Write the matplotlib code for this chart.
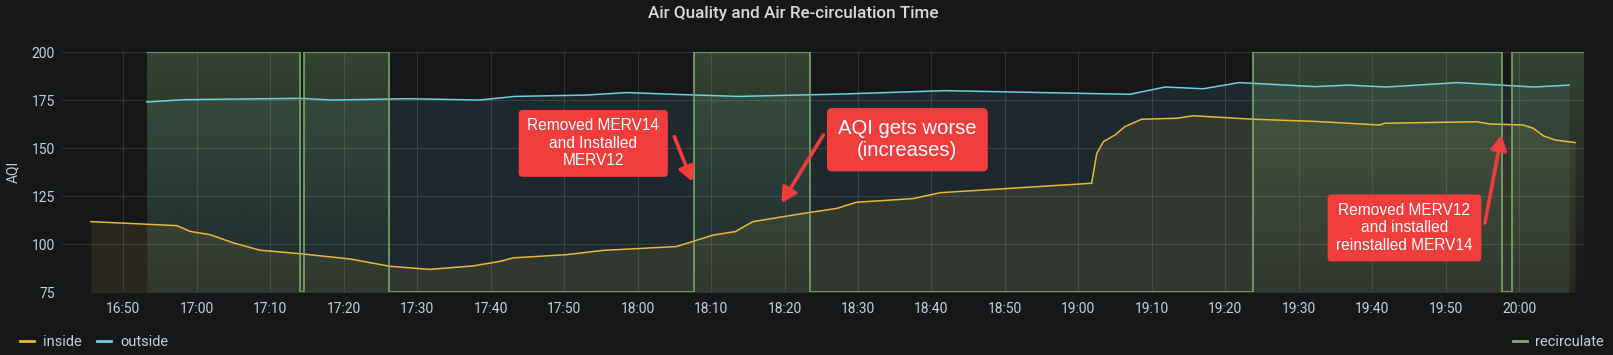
import matplotlib
matplotlib.use('Agg')
import matplotlib.pyplot as plt
import matplotlib.dates as mdates
from matplotlib.lines import Line2D
from matplotlib.path import Path
from matplotlib.colors import to_rgb
import numpy as np
import pandas as pd

# ---------------- data ----------------
DAY = '2021-01-01 '

inside_times = ['16:45:36', '16:57:18', '16:59:06', '17:01:48', '17:05:00', '17:08:36',
                '17:14:00', '17:20:54', '17:26:18', '17:31:42', '17:37:36', '17:41:18',
                '17:43:06', '17:50:24', '17:55:18', '18:05:18', '18:10:18', '18:13:18',
                '18:15:42', '18:22:06', '18:27:06', '18:29:48', '18:37:30', '18:41:12',
                '19:01:48', '19:02:30', '19:03:24', '19:05:00', '19:06:18', '19:08:36',
                '19:13:24', '19:15:36', '19:23:48', '19:32:00', '19:41:00', '19:41:42',
                '19:54:12', '19:56:00', '20:00:30', '20:01:54', '20:03:18', '20:04:54',
                '20:07:36']
inside_values = [111.7, 109.6, 106.6, 104.9, 100.6, 96.8,
                 95.0, 92.2, 88.4, 86.8, 88.6, 91.0,
                 92.8, 94.5, 96.7, 98.7, 104.7, 106.5,
                 111.7, 115.7, 118.6, 121.8, 123.7, 126.8,
                 131.7, 147.3, 153.4, 156.9, 161.2, 165.1,
                 165.6, 166.9, 165.1, 164.0, 162.1, 163.0,
                 163.8, 162.6, 162.1, 160.4, 156.4, 154.3,
                 152.9]

outside_times = ['16:53:12', '16:58:18', '17:14:06', '17:18:24', '17:28:42', '17:38:30',
                 '17:43:18', '17:53:00', '17:58:30', '18:06:24', '18:13:42', '18:27:30',
                 '18:41:48', '19:07:00', '19:11:48', '19:17:00', '19:21:54', '19:32:12',
                 '19:36:42', '19:41:54', '19:51:36', '20:02:00', '20:06:48']
outside_values = [174.1, 175.3, 176.0, 175.1, 175.8, 175.1,
                  177.0, 177.7, 179.0, 177.9, 177.0, 178.2,
                  180.0, 178.1, 181.9, 181.0, 184.2, 182.1,
                  182.9, 181.9, 184.2, 181.9, 182.9]

recirc_times = ['16:53:12', '17:14:06', '17:14:36', '17:26:06', '18:07:42', '18:23:24',
                '19:23:48', '19:57:39', '19:58:58', '20:08:49']
recirc_values = [200, 75, 200, 75, 200, 75, 200, 75, 200, 200]

x_tick_labels = ['16:50', '17:00', '17:10', '17:20', '17:30', '17:40', '17:50', '18:00',
                 '18:10', '18:20', '18:30', '18:40', '18:50', '19:00', '19:10', '19:20',
                 '19:30', '19:40', '19:50', '20:00']
y_ticks = [75, 100, 125, 150, 175, 200]
x_range = ['16:41:31', '20:08:49']

series_names = ['inside', 'outside', 'recirculate']
series_colors = ['#EAB839', '#6ED0E0', '#7EB26D']

annotations = [
    # text, box centre, arrow start, arrow tip, fontsize
    ('Removed MERV14\nand Installed\nMERV12', ('17:53:58', 152.5), ('18:05:00', 156.0), ('18:07:27', 132.5), 11.2),
    ('AQI gets worse\n(increases)', ('18:36:43', 154.4), ('18:25:17', 156.9), ('18:19:35', 121.4), 14.6),
    ('Removed MERV12\nand installed\nreinstalled MERV14', ('19:44:23', 108.4), ('19:55:20', 111.0), ('19:57:36', 156.9), 11.2),
]


def T(s):
    return pd.to_datetime(DAY + s)


def TS(lst):
    return pd.to_datetime([DAY + s for s in lst])


# ---------------- style ----------------
BG = '#161719'
TXT = '#c7d0d9'
plt.rcParams['font.family'] = ['Roboto', 'DejaVu Sans']

fig = plt.figure(figsize=(16.13, 3.55), dpi=100, facecolor=BG)
ax = fig.add_axes([61 / 1613, 1 - 292 / 355, (1584 - 61) / 1613, (292 - 52.3) / 355])
ax.set_facecolor(BG)
ax.set_axisbelow(True)

ti, to, tr = TS(inside_times), TS(outside_times), TS(recirc_times)
xlim = (T(x_range[0]), T(x_range[1]))
ylim = (y_ticks[0], y_ticks[-1])

ax.fill_between(ti, inside_values, 0, color=series_colors[0], alpha=0.10, lw=0, zorder=2)
ax.fill_between(to, outside_values, 0, color=series_colors[1], alpha=0.10, lw=0, zorder=2)

# recirculate: opacity-gradient fill (0 at bottom of the plot, strongest at top)
poly = ax.fill_between(tr, recirc_values, 0, step='post', facecolor='none', lw=0, zorder=2)
paths = poly.get_paths()
clip = Path.make_compound_path(*paths) if len(paths) > 1 else paths[0]
grad = np.zeros((256, 1, 4))
grad[:, 0, :3] = to_rgb(series_colors[2])
grad[:, 0, 3] = np.linspace(0.30, 0.0, 256)
im = ax.imshow(grad, extent=[mdates.date2num(xlim[0]), mdates.date2num(xlim[1]), ylim[0], ylim[1]],
               aspect='auto', origin='upper', interpolation='bilinear', zorder=2)
im.set_clip_path(clip, transform=ax.transData)

ax.plot(ti, inside_values, color=series_colors[0], lw=1.1, zorder=4)
ax.plot(to, outside_values, color=series_colors[1], lw=1.1, zorder=4)
ax.plot(tr, recirc_values, color=series_colors[2], lw=1.1, drawstyle='steps-post', zorder=4)

ax.set_xlim(*xlim)
ax.set_ylim(*ylim)
ax.set_yticks(y_ticks)
ax.set_xticks([T(s) for s in x_tick_labels])
ax.xaxis.set_major_formatter(mdates.DateFormatter('%H:%M'))
ax.grid(True, color='#ffffff', alpha=0.12, lw=0.8)
for sp in ax.spines.values():
    sp.set_visible(False)
ax.tick_params(axis='both', length=0, labelsize=10, labelcolor=TXT)
ax.tick_params(axis='x', pad=7)
ax.tick_params(axis='y', pad=4.5)
ax.set_ylabel('AQI', color=TXT, fontsize=10, labelpad=8)

# title
fig.text(793.5 / 1613, 1 - 13.5 / 355, 'Air Quality and Air Re-circulation Time',
         ha='center', va='center', color='#d8d9da', fontsize=12.3, fontweight='medium')

# annotations
RED = '#F23D3D'
for text, centre, start, tip, fs in annotations:
    ax.annotate('', xy=(T(tip[0]), tip[1]), xytext=(T(start[0]), start[1]),
                arrowprops=dict(arrowstyle='-|>,head_length=0.55,head_width=0.3', color=RED, lw=2.6,
                                mutation_scale=16, shrinkA=0, shrinkB=0), zorder=6)
    ax.text(T(centre[0]), centre[1], text, ha='center', va='center', color='white',
            fontsize=fs, family=['Liberation Sans', 'DejaVu Sans'], linespacing=1.2, zorder=7,
            bbox=dict(boxstyle='round,pad=0.55,rounding_size=0.25', fc=RED, ec='none'))

# legends
h_in = Line2D([], [], color=series_colors[0], lw=2)
h_out = Line2D([], [], color=series_colors[1], lw=2)
h_rec = Line2D([], [], color=series_colors[2], lw=2)
leg1 = fig.legend([h_in, h_out], series_names[:2], loc='center left',
                  bbox_to_anchor=(20 / 1613, 1 - 342 / 355), ncol=2, frameon=False,
                  fontsize=10.5, handlelength=0.95, handletextpad=0.6, columnspacing=1.1,
                  borderpad=0, borderaxespad=0, labelcolor=TXT)
leg2 = fig.legend([h_rec], series_names[2:], loc='center right',
                  bbox_to_anchor=(1604 / 1613, 1 - 342 / 355), frameon=False,
                  fontsize=10.5, handlelength=0.95, handletextpad=0.6,
                  borderpad=0, borderaxespad=0, labelcolor=TXT)

fig.savefig('out.png', dpi=100, facecolor=BG)
